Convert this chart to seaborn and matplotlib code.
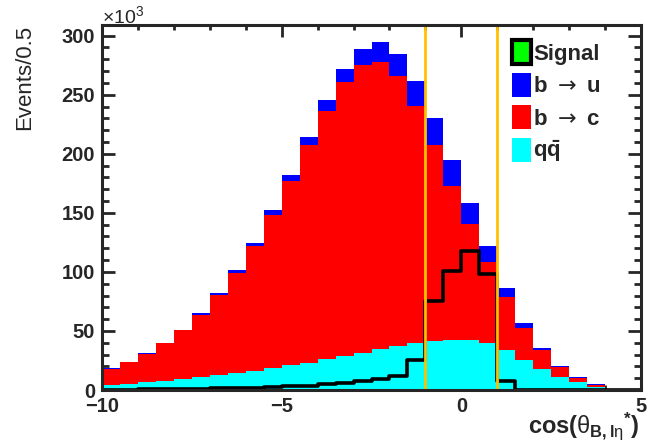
import numpy as np
import pandas as pd
import matplotlib
matplotlib.use('Agg')
import matplotlib.pyplot as plt
from matplotlib.patches import Patch
from matplotlib.ticker import MultipleLocator
import seaborn as sns

# binning: cos(theta_B,l-eta*) from -10 to 5 in steps of 0.5 (30 bins)
bin_edges = list(np.arange(-10, 5.01, 0.5))
bin_centers = np.arange(-10, 5, 0.5) + 0.25

# events per bin, in units of 10^3
qq = [4.0, 5.3, 6.4, 7.3, 9.2, 10.7, 12.4, 14.3, 16.0, 18.3,
      20.8, 23.1, 25.9, 28.7, 31.6, 34.4, 37.2, 39.5, 41.8, 42.6,
      42.0, 39.6, 33.6, 25.1, 17.5, 10.9, 6.4, 2.5, 0.5, 0.0]
b_to_c = [14.0, 18.1, 24.3, 32.2, 41.3, 52.4, 67.8, 84.7, 106.0, 129.7,
          156.0, 183.9, 210.2, 231.7, 243.7, 243.2, 228.3, 200.6, 165.5, 130.2,
          98.3, 69.1, 45.1, 27.4, 16.1, 8.8, 4.1, 1.8, 0.3, 0.0]
b_to_u = [0.3, 0.3, 0.3, 0.4, 0.7, 1.8, 1.7, 2.4, 2.5, 4.0,
          5.6, 6.8, 9.1, 11.3, 13.6, 16.7, 19.2, 21.7, 22.6, 21.5,
          18.1, 13.3, 7.7, 4.2, 1.9, 0.9, 0.4, 0.4, 0.1, 0.0]
signal = [0.0, 0.0, 0.0, 0.0, 0.0, 0.0, 0.0, 0.0, 0.0, 0.0,
          0.0, 0.0, 0.0, 0.0, 0.0, 0.0, 0.05, 0.1, 0.25, 0.3,
          0.3, 0.3, 0.1, 0.0, 0.0, 0.0, 0.0, 0.0, 0.0, 0.0]
# signal, scaled up, drawn as black outline
signal_scaled = [0.3, 0.4, 0.5, 0.6, 0.8, 1.0, 1.3, 1.6, 2.0, 2.5,
                 3.0, 3.8, 4.8, 6.0, 7.5, 9.2, 11.8, 25.7, 75.0, 101.0,
                 118.0, 98.0, 8.0, 0.0, 0.0, 0.0, 0.0, 0.0, 0.0, 0.0]

components = ['Signal', 'b_u', 'b_c', 'qq']
palette = {'Signal': '#00ff00', 'b_u': '#0000ff', 'b_c': '#ff0000', 'qq': '#00ffff'}

df = pd.concat([
    pd.DataFrame({'x': bin_centers, 'events': signal, 'component': 'Signal'}),
    pd.DataFrame({'x': bin_centers, 'events': b_to_u, 'component': 'b_u'}),
    pd.DataFrame({'x': bin_centers, 'events': b_to_c, 'component': 'b_c'}),
    pd.DataFrame({'x': bin_centers, 'events': qq, 'component': 'qq'}),
], ignore_index=True)

sns.set_style('ticks')
plt.rcParams['font.family'] = ['Liberation Sans', 'DejaVu Sans']
plt.rcParams['mathtext.fontset'] = 'custom'
plt.rcParams['mathtext.rm'] = 'Liberation Sans'
plt.rcParams['mathtext.it'] = 'Liberation Sans'
plt.rcParams['mathtext.bf'] = 'Liberation Sans:bold'

fig = plt.figure(figsize=(6.48, 4.47), dpi=100)
W, H = 648, 447
ax = fig.add_axes([102 / W, 1 - 390 / H, (641 - 102) / W, (390 - 25) / H])

# stacked histogram (first hue level ends up on top)
sns.histplot(data=df, x='x', weights='events', hue='component', hue_order=components,
             bins=bin_edges, multiple='stack', element='step', palette=palette,
             alpha=1, linewidth=0, legend=False, ax=ax)

# scaled signal outline
sns.histplot(x=bin_centers, weights=signal_scaled, bins=bin_edges, element='step',
             fill=False, color='black', linewidth=2.6, ax=ax)

# signal window
for xv in (-1, 1):
    ax.axvline(xv, color='#ffc000', linewidth=2.0, zorder=5)

ax.set_xlim(-10, 5)
ax.set_ylim(0, 309)
ax.set_xlabel('')
ax.set_ylabel('')

ax.xaxis.set_major_locator(MultipleLocator(5))
ax.xaxis.set_minor_locator(MultipleLocator(1))
ax.yaxis.set_major_locator(MultipleLocator(50))
ax.yaxis.set_minor_locator(MultipleLocator(10))
ax.tick_params(which='both', direction='in', top=True, right=True, width=2.0)
ax.tick_params(axis='x', which='major', length=8.5, pad=5)
ax.tick_params(axis='x', which='minor', length=3.8)
ax.tick_params(axis='y', which='major', length=9.5, pad=5)
ax.tick_params(axis='y', which='minor', length=5)
for lab in ax.get_xticklabels() + ax.get_yticklabels():
    lab.set_fontweight('bold')
    lab.set_fontsize(14.5)
for sp in ax.spines.values():
    sp.set_linewidth(2.2)
    sp.set_zorder(10)

fig.text(102 / W, 1 - 23 / H, r'$\times10^{3}$', fontsize=14, ha='left', va='baseline')
fig.text(25 / W, 1 - 25 / H, 'Events/0.5', fontsize=16, rotation=90, ha='center', va='top')
fig.text(640 / W, 1 - 433 / H,
         r'$\mathbf{cos(}\theta_{\mathbf{B,l}\eta}{}^{\mathbf{*}}\mathbf{)}$',
         fontsize=17, ha='right', va='baseline')

handles = [
    Patch(facecolor='#00ff00', edgecolor='black', linewidth=3),
    Patch(facecolor='#0000ff', edgecolor='none'),
    Patch(facecolor='#ff0000', edgecolor='none'),
    Patch(facecolor='#00ffff', edgecolor='none'),
]
labels = ['Signal', r'b $\rightarrow$ u', r'b $\rightarrow$ c', r'$\mathbf{q\bar{q}}$']
leg = ax.legend(handles, labels, loc='upper left', bbox_to_anchor=(512 / W, 1 - 40 / H),
                bbox_transform=fig.transFigure, frameon=False, borderpad=0,
                borderaxespad=0, handlelength=0.85, handleheight=1.3, handletextpad=0.1,
                labelspacing=0.36, prop={'weight': 'bold', 'size': 16})
for t in leg.get_texts()[1:3]:
    t.set_math_fontfamily('dejavusans')

fig.savefig('out.png', dpi=100)
